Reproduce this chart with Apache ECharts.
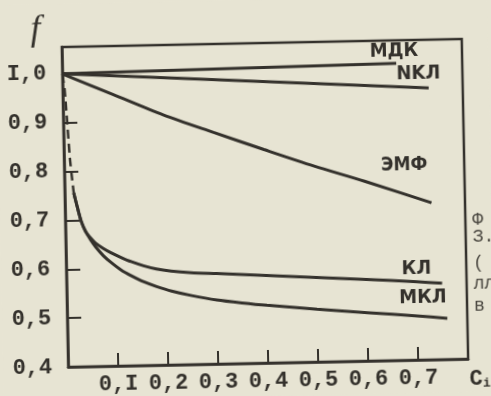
<!DOCTYPE html>
<html>
<head>
<meta charset="utf-8">
<script src="https://cdn.jsdelivr.net/npm/echarts@6/dist/echarts.min.js"></script>
<style>
  html, body { margin: 0; padding: 0; background: #e7e4d3; overflow: hidden; }
  #chart { width: 491px; height: 396px; transform: rotate(-1.15deg); transform-origin: 265px 204px; }
</style>
</head>
<body>
<div id="chart"></div>
<script>
// ---- data ----
const xTickLabels = ['', '0,I', '0,2', '0,3', '0,4', '0,5', '0,6', '0,7', ''];
const yTickLabels = ['0,4', '0,5', '0,6', '0,7', '0,8', '0,9', 'I,0'];

const mdkX = [0, 0.668];
const mdkY = [1.0, 1.008];

const nklX = [0, 0.732];
const nklY = [1.0, 0.956];

const emfX = [0, 0.1, 0.2, 0.3, 0.4, 0.5, 0.6, 0.733];
const emfY = [1.0, 0.956, 0.912, 0.874, 0.837, 0.801, 0.768, 0.721];

const dashX = [0, 0.004, 0.012, 0.018];
const dashY = [1.0, 0.967, 0.823, 0.756];

const klX = [0.018, 0.025, 0.032, 0.04, 0.05, 0.06, 0.075, 0.09, 0.11, 0.13, 0.155, 0.18, 0.21, 0.25, 0.3, 0.4, 0.5, 0.6, 0.7, 0.751];
const klY = [0.756, 0.725, 0.697, 0.677, 0.663, 0.652, 0.641, 0.632, 0.622, 0.613, 0.604, 0.597, 0.592, 0.588, 0.585, 0.579, 0.573, 0.567, 0.560, 0.556];

const mklX = [0.018, 0.025, 0.032, 0.04, 0.05, 0.06, 0.075, 0.09, 0.11, 0.13, 0.155, 0.18, 0.21, 0.25, 0.3, 0.35, 0.4, 0.5, 0.6, 0.7, 0.76];
const mklY = [0.756, 0.725, 0.697, 0.677, 0.659, 0.644, 0.626, 0.612, 0.596, 0.584, 0.571, 0.561, 0.551, 0.541, 0.531, 0.524, 0.518, 0.508, 0.499, 0.490, 0.484];

const curveNames = ['МДК', 'NKЛ', 'ЭМФ', 'КЛ', 'МКЛ'];
// ---------------------------------------

const ink = '#34312c';
const zip = (xs, ys) => xs.map((x, i) => [x, ys[i]]);
const tickFont = '"Liberation Mono", "DejaVu Sans Mono", monospace';
const stampFont = '"Liberation Sans Narrow", "DejaVu Sans Condensed", "DejaVu Sans", sans-serif';

const chart = echarts.init(document.getElementById('chart'), null, { renderer: 'canvas' });

function line(name, xs, ys, opts) {
  return Object.assign({
    name: name,
    type: 'line',
    data: zip(xs, ys),
    showSymbol: false,
    symbol: 'none',
    silent: true,
    lineStyle: { color: ink, width: 3 },
    z: 3
  }, opts || {});
}

chart.setOption({
  backgroundColor: '#e7e4d3',
  animation: false,
  grid: {
    left: 65, right: 26, top: 43, bottom: 33,
    show: true, borderColor: ink, borderWidth: 2.5,
    backgroundColor: 'transparent',
    outerBoundsMode: 'none'
  },
  xAxis: {
    type: 'value', min: 0, max: 0.8, interval: 0.1,
    splitLine: { show: false },
    axisLine: { show: true, lineStyle: { color: ink, width: 2.5 } },
    axisTick: { show: true, inside: true, length: 13, lineStyle: { color: ink, width: 2 } },
    axisLabel: {
      margin: 7, color: ink, fontFamily: tickFont, fontSize: 22, fontWeight: 'bold',
      formatter: v => { const i = Math.round(v * 10); return Math.abs(v * 10 - i) < 1e-6 ? (xTickLabels[i] || '') : ''; }
    }
  },
  yAxis: {
    type: 'value', min: 0.4, max: 1.055, interval: 0.1,
    splitLine: { show: false },
    axisLine: { show: true, lineStyle: { color: ink, width: 2.5 } },
    axisTick: { show: true, inside: true, length: 14, lineStyle: { color: ink, width: 2 } },
    axisLabel: {
      margin: 16, color: ink, fontFamily: tickFont, fontSize: 22, fontWeight: 'bold',
      showMaxLabel: false,
      formatter: v => { const k = (v - 0.4) * 10; const i = Math.round(k); return Math.abs(k - i) < 1e-6 ? (yTickLabels[i] || '') : ''; }
    }
  },
  series: [
    line(curveNames[0], mdkX, mdkY),
    line(curveNames[1], nklX, nklY),
    line(curveNames[2], emfX, emfY, { smooth: 0.3 }),
    line('dash', dashX, dashY, { smooth: 0.2, lineStyle: { color: ink, width: 2.5, type: [9, 5] } }),
    line(curveNames[3], klX, klY, { smooth: 0.25 }),
    line(curveNames[4], mklX, mklY, { smooth: 0.25 })
  ],
  graphic: {
    elements: [
      { type: 'text', x: 39, y: 26, style: { text: 'f', font: 'italic 36px "Liberation Serif", "DejaVu Serif", serif', fill: ink, align: 'center', verticalAlign: 'middle' } },
      { type: 'text', x: 466, y: 383, style: { text: '{c|C}{i|i}', fill: ink, align: 'left', verticalAlign: 'middle',
          rich: { c: { font: 'bold 22px ' + tickFont, fill: ink }, i: { font: 'bold 13px ' + tickFont, fill: ink, padding: [10, 0, 0, 0] } } } },
      { type: 'text', x: 397, y: 54, style: { text: curveNames[0], font: 'bold 20px ' + stampFont, fill: ink, align: 'center', verticalAlign: 'middle' } },
      { type: 'text', x: 421, y: 77, style: { text: curveNames[1], font: 'bold 20px ' + stampFont, fill: ink, align: 'center', verticalAlign: 'middle' } },
      { type: 'text', x: 405, y: 168, style: { text: curveNames[2], font: 'bold 19px ' + stampFont, fill: ink, align: 'center', verticalAlign: 'middle' } },
      { type: 'text', x: 415, y: 272, style: { text: curveNames[3], font: 'bold 20px ' + stampFont, fill: ink, align: 'center', verticalAlign: 'middle' } },
      { type: 'text', x: 421, y: 301, style: { text: curveNames[4], font: 'bold 20px ' + stampFont, fill: ink, align: 'center', verticalAlign: 'middle' } },
      { type: 'text', x: 472, y: 224, style: { text: 'Ф', font: '18px ' + tickFont, fill: '#4a4740', align: 'left', verticalAlign: 'middle' } },
      { type: 'text', x: 472, y: 241, style: { text: 'З.', font: '18px ' + tickFont, fill: '#4a4740', align: 'left', verticalAlign: 'middle' } },
      { type: 'text', x: 472, y: 267, style: { text: '(', font: '18px ' + tickFont, fill: '#4a4740', align: 'left', verticalAlign: 'middle' } },
      { type: 'text', x: 472, y: 288, style: { text: 'лл', font: '18px ' + tickFont, fill: '#4a4740', align: 'left', verticalAlign: 'middle' } },
      { type: 'text', x: 472, y: 310, style: { text: 'в', font: '18px ' + tickFont, fill: '#4a4740', align: 'left', verticalAlign: 'middle' } }
    ]
  }
});
</script>
</body>
</html>
